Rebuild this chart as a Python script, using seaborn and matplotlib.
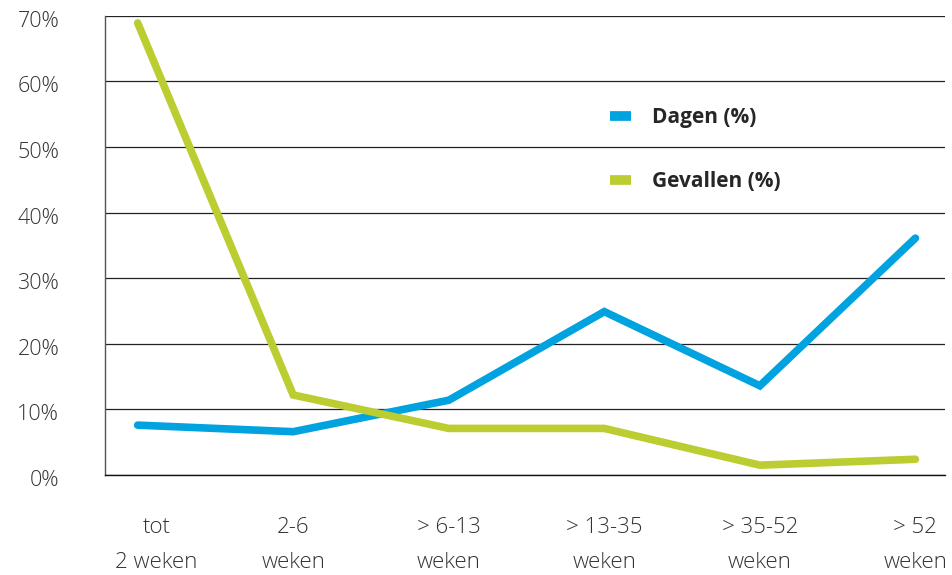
import matplotlib
matplotlib.use("Agg")
import matplotlib.pyplot as plt
import matplotlib.transforms as mtransforms
import seaborn as sns
import pandas as pd

# categorieen en waarden (in %)
categories = ["tot\n2 weken", "2-6\nweken", "> 6-13\nweken", "> 13-35\nweken", "> 35-52\nweken", "> 52\nweken"]
dagen = [7.6, 6.6, 11.4, 24.9, 13.6, 36.1]
gevallen = [68.9, 12.2, 7.1, 7.1, 1.5, 2.4]
series_names = ["Dagen (%)", "Gevallen (%)"]
y_ticks = [0, 10, 20, 30, 40, 50, 60, 70]

blauw = "#00a3e0"
groen = "#bccd31"

sns.set_theme(style="white")
plt.rcParams["font.family"] = ["Open Sans", "DejaVu Sans"]

df = pd.DataFrame({
    "pos": list(range(len(categories))) * 2,
    "waarde": dagen + gevallen,
    "reeks": [series_names[0]] * len(dagen) + [series_names[1]] * len(gevallen),
})

fig = plt.figure(figsize=(9.52, 5.75), dpi=100)
ax = fig.add_axes([0.1103, 0.1739, 0.8823, 0.7988])

sns.lineplot(data=df, x="pos", y="waarde", hue="reeks", sort=False,
             palette=[blauw, groen], linewidth=5.5, ax=ax, legend=True)
for line in ax.lines:
    line.set_solid_capstyle("round")
    line.set_solid_joinstyle("miter")

ax.set_xlim(-0.21, 5.19)
ax.set_ylim(0, 70)
ax.set_yticks(y_ticks)
ax.set_yticklabels([f"{v}%" for v in y_ticks])
ax.set_xticks(range(len(categories)))
ax.set_xticklabels(categories, linespacing=1.9)
ax.set_xlabel("")
ax.set_ylabel("")

ax.yaxis.grid(True, color="#222222", linewidth=0.9)
ax.set_axisbelow(True)
for side in ["top", "right"]:
    ax.spines[side].set_visible(False)
ax.spines["left"].set_color("#555555")
ax.spines["left"].set_linewidth(1.0)
ax.spines["bottom"].set_color("#111111")
ax.spines["bottom"].set_linewidth(1.0)

ax.tick_params(axis="y", length=0, pad=33, labelsize=15.5, labelcolor="#333333")
ax.tick_params(axis="x", length=0, pad=30, labelsize=16, labelcolor="#333333")
shift_down = mtransforms.ScaledTranslation(0, -0.03, fig.dpi_scale_trans)
for lbl in ax.get_xticklabels():
    lbl.set_fontweight("light")
for lbl in ax.get_yticklabels():
    lbl.set_fontweight("light")
    lbl.set_transform(lbl.get_transform() + shift_down)
# eerste label staat iets naar rechts in het origineel
first = ax.get_xticklabels()[0]
first.set_transform(first.get_transform() + mtransforms.ScaledTranslation(0.19, 0, fig.dpi_scale_trans))

handles, labels = ax.get_legend_handles_labels()
for h in handles:
    h.set_linewidth(7)
    h.set_solid_capstyle("butt")
leg = ax.legend(handles, labels, loc="upper left", bbox_to_anchor=(600 / 952, 1 - 97 / 575),
                bbox_transform=fig.transFigure, frameon=False, borderpad=0,
                handlelength=1.0, handletextpad=1.0, labelspacing=2.05,
                prop={"size": 15, "weight": "bold"})

fig.savefig("out.png", dpi=100)
